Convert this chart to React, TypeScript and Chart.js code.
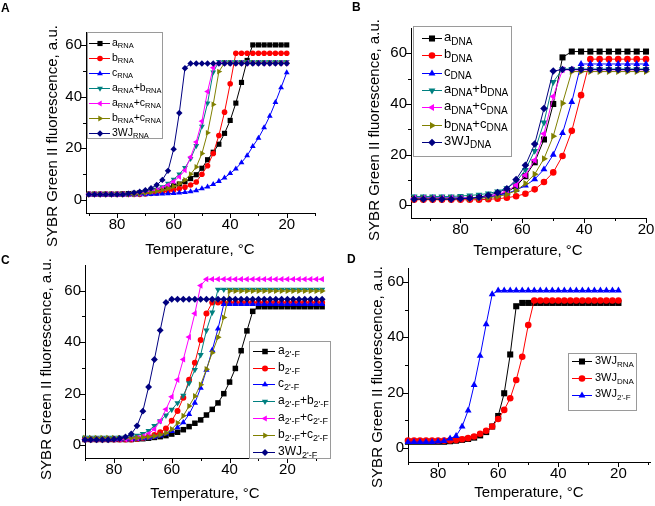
import React, { useEffect, useRef } from "react";
import { Chart, registerables } from "chart.js";

Chart.register(...registerables);

const FONT = "'Liberation Sans', Arial, Helvetica, sans-serif";

// ---------------- Panel A (RNA) ----------------
const tempA = [90, 88, 86, 84, 82, 80, 78, 76, 74, 72, 70, 68, 66, 64, 62, 60, 58, 56, 54, 52, 50, 48, 46, 44, 42, 40, 38, 36, 34, 32, 30, 28, 26, 24, 22, 20];
const aRNA = [2.3, 2.3, 2.3, 2.3, 2.3, 2.3, 2.4, 2.5, 2.6, 2.8, 3.0, 3.3, 3.7, 4.2, 4.8, 5.5, 6.2, 7.1, 8.3, 9.8, 12.3, 15.6, 18.5, 21.6, 25.8, 30.8, 37.5, 45.5, 54, 60, 60, 60, 60, 60, 60, 60];
const bRNA = [2.2, 2.2, 2.2, 2.2, 2.2, 2.2, 2.2, 2.2, 2.2, 2.2, 2.4, 2.6, 2.8, 3.1, 3.5, 3.9, 4.4, 5.0, 5.8, 7.0, 10, 13.3, 18, 25, 34, 45, 56.8, 56.8, 56.8, 56.8, 56.8, 56.8, 56.8, 56.8, 56.8, 56.8];
const cRNA = [2.0, 2.0, 2.0, 2.0, 2.0, 2.0, 2.0, 2.0, 2.0, 2.1, 2.1, 2.2, 2.3, 2.4, 2.5, 2.6, 2.8, 3.0, 3.3, 3.7, 4.4, 5.1, 6.1, 7.3, 8.6, 10.3, 12.1, 14.5, 17.2, 20.8, 24, 28, 32.5, 37.8, 43.5, 49.3];
const abRNA = [2.3, 2.3, 2.3, 2.3, 2.3, 2.3, 2.3, 2.3, 2.4, 2.6, 2.9, 3.4, 4.1, 5.1, 6.4, 8, 10, 12.5, 16, 21, 28.5, 37.5, 49.5, 53.5, 53.5, 53.5, 53.5, 53.5, 53.5, 53.5, 53.5, 53.5, 53.5, 53.5, 53.5, 53.5];
const acRNA = [2.3, 2.3, 2.3, 2.3, 2.3, 2.3, 2.3, 2.3, 2.4, 2.6, 2.9, 3.3, 3.9, 4.7, 5.8, 7.2, 9, 11.5, 16.7, 22.5, 30.5, 42, 51.2, 53, 53, 53, 53, 53, 53, 53, 53, 53, 53, 53, 53, 53];
const bcRNA = [2.2, 2.2, 2.2, 2.2, 2.2, 2.2, 2.2, 2.2, 2.2, 2.5, 2.7, 3.0, 3.4, 3.9, 4.5, 5.3, 6.3, 7.8, 10, 12.8, 18, 26, 37, 49.7, 53, 53, 53, 53, 53, 53, 53, 53, 53, 53, 53, 53];
const wjRNA = [2.2, 2.2, 2.2, 2.2, 2.2, 2.2, 2.2, 2.5, 2.8, 3.2, 3.8, 4.6, 5.8, 7.8, 11.3, 19.7, 33.7, 51, 52.8, 52.8, 52.8, 52.8, 52.8, 52.8, 52.8, 52.8, 52.8, 52.8, 52.8, 52.8, 52.8, 52.8, 52.8, 52.8, 52.8, 52.8];

// ---------------- Panel B (DNA) ----------------
const tempB = [95, 92, 89, 86, 83, 80, 77, 74, 71, 68, 65, 62, 59, 56, 53, 50, 47, 44, 41, 38, 35, 32, 29, 26, 23, 20];
const aDNA = [2.8, 2.8, 2.8, 2.8, 2.8, 2.8, 2.8, 3.0, 3.3, 4.0, 5.2, 7.5, 11.5, 17, 26, 40, 58.4, 60.7, 60.7, 60.7, 60.7, 60.7, 60.7, 60.7, 60.7, 60.7];
const bDNA = [2.2, 2.2, 2.2, 2.2, 2.2, 2.2, 2.2, 2.2, 2.4, 2.6, 3.0, 3.6, 4.6, 6.3, 9.2, 13, 19.5, 29.4, 43.5, 57.7, 57.7, 57.7, 57.7, 57.7, 57.7, 57.7];
const cDNA = [2.9, 2.9, 2.9, 2.9, 2.9, 2.9, 2.9, 3.1, 3.4, 3.9, 4.7, 6.0, 7.8, 10.3, 14.2, 20, 28.5, 40.8, 55.8, 55.8, 55.8, 55.8, 55.8, 55.8, 55.8, 55.8];
const abDNA = [3.5, 3.5, 3.5, 3.5, 3.5, 3.7, 3.9, 4.2, 4.7, 5.5, 6.8, 9.3, 14, 21.5, 32.7, 48.7, 53.8, 53.8, 53.8, 53.8, 53.8, 53.8, 53.8, 53.8, 53.8, 53.8];
const acDNA = [2.8, 2.8, 2.8, 2.8, 2.8, 2.8, 3.0, 3.2, 3.6, 4.3, 5.5, 8.0, 11.9, 17.8, 28.3, 43, 53.5, 53.5, 53.5, 53.5, 53.5, 53.5, 53.5, 53.5, 53.5, 53.5];
const bcDNA = [2.6, 2.6, 2.6, 2.6, 2.6, 2.6, 2.6, 2.8, 3.0, 3.5, 4.3, 5.8, 8.6, 12.3, 18.4, 27.3, 40.3, 52.8, 52.8, 52.8, 52.8, 52.8, 52.8, 52.8, 52.8, 52.8];
const wjDNA = [2.4, 2.4, 2.4, 2.4, 2.4, 2.6, 2.8, 3.2, 4.0, 5.0, 6.5, 10.2, 15.8, 24.2, 38.2, 53, 53.6, 53.6, 53.6, 53.6, 53.6, 53.6, 53.6, 53.6, 53.6, 53.6];

// ---------------- Panel C (2'-F) ----------------
const tempC = [90, 88, 86, 84, 82, 80, 78, 76, 74, 72, 70, 68, 66, 64, 62, 60, 58, 56, 54, 52, 50, 48, 46, 44, 42, 40, 38, 36, 34, 32, 30, 28, 26, 24, 22, 20, 18, 16, 14, 12, 10, 8];
const aF = [2.2, 2.2, 2.2, 2.2, 2.2, 2.2, 2.2, 2.2, 2.2, 2.4, 2.5, 2.7, 3.0, 3.3, 3.7, 4.3, 5.0, 6.0, 7.2, 8.5, 9.8, 11.7, 13.9, 16.4, 20, 24.5, 29.8, 36.7, 44.4, 52, 53.8, 53.8, 53.8, 53.8, 53.8, 53.8, 53.8, 53.8, 53.8, 53.8, 53.8, 53.8];
const bF = [2.2, 2.2, 2.2, 2.2, 2.2, 2.2, 2.2, 2.2, 2.2, 2.5, 2.8, 3.2, 3.9, 5.0, 6.5, 9.5, 13.3, 18.4, 25.4, 32, 40.9, 51.2, 55.4, 55.4, 55.4, 55.4, 55.4, 55.4, 55.4, 55.4, 55.4, 55.4, 55.4, 55.4, 55.4, 55.4, 55.4, 55.4, 55.4, 55.4, 55.4, 55.4];
const cF = [2.2, 2.2, 2.2, 2.2, 2.2, 2.2, 2.2, 2.2, 2.2, 2.4, 2.6, 2.8, 3.2, 3.7, 4.4, 5.4, 6.9, 8.8, 12, 16.4, 22.2, 29.2, 36.9, 45.2, 54.8, 54.8, 54.8, 54.8, 54.8, 54.8, 54.8, 54.8, 54.8, 54.8, 54.8, 54.8, 54.8, 54.8, 54.8, 54.8, 54.8, 54.8];
const abF = [2.9, 2.9, 2.9, 2.9, 2.9, 2.9, 2.9, 2.9, 3.3, 3.7, 4.4, 5.6, 7.5, 9.4, 11.6, 13.8, 16.4, 19.3, 24.1, 29.3, 35.1, 44.6, 51.6, 60.5, 60.5, 60.5, 60.5, 60.5, 60.5, 60.5, 60.5, 60.5, 60.5, 60.5, 60.5, 60.5, 60.5, 60.5, 60.5, 60.5, 60.5, 60.5];
const acF = [2.3, 2.3, 2.3, 2.3, 2.3, 2.3, 2.3, 2.3, 2.5, 2.8, 3.4, 4.4, 6.2, 9.4, 13.9, 18.8, 25.4, 33.3, 42, 51.2, 62, 64.5, 64.5, 64.5, 64.5, 64.5, 64.5, 64.5, 64.5, 64.5, 64.5, 64.5, 64.5, 64.5, 64.5, 64.5, 64.5, 64.5, 64.5, 64.5, 64.5, 64.5];
const bcF = [2.8, 2.8, 2.8, 2.8, 2.8, 2.8, 2.8, 2.8, 2.8, 2.8, 3.0, 3.2, 3.5, 4.0, 4.7, 6.2, 8.6, 11.4, 15.2, 19, 23.5, 29.5, 35.9, 41.9, 49.6, 59.9, 59.9, 59.9, 59.9, 59.9, 59.9, 59.9, 59.9, 59.9, 59.9, 59.9, 59.9, 59.9, 59.9, 59.9, 59.9, 59.9];
const wjF = [2.1, 2.1, 2.1, 2.1, 2.1, 2.3, 2.6, 3.2, 4.3, 7.5, 13.2, 22.6, 33.3, 44.6, 55.4, 56.7, 56.7, 56.7, 56.7, 56.7, 56.7, 56.7, 56.7, 56.7, 56.7, 56.7, 56.7, 56.7, 56.7, 56.7, 56.7, 56.7, 56.7, 56.7, 56.7, 56.7, 56.7, 56.7, 56.7, 56.7, 56.7, 56.7];

// ---------------- Panel D (3WJ comparison) ----------------
const tempD = [90, 88, 86, 84, 82, 80, 78, 76, 74, 72, 70, 68, 66, 64, 62, 60, 58, 56, 54, 52, 50, 48, 46, 44, 42, 40, 38, 36, 34, 32, 30, 28, 26, 24, 22, 20];
const wjRNA_D = [2.3, 2.3, 2.3, 2.3, 2.3, 2.3, 2.3, 2.5, 2.7, 3.0, 3.3, 3.8, 4.6, 5.8, 7.8, 11.6, 19.8, 33.8, 51.2, 52.4, 52.4, 52.4, 52.4, 52.4, 52.4, 52.4, 52.4, 52.4, 52.4, 52.4, 52.4, 52.4, 52.4, 52.4, 52.4, 52.4];
const wjDNA_D = [2.7, 2.7, 2.7, 2.7, 2.7, 2.7, 2.7, 2.8, 2.9, 3.2, 3.6, 4.2, 5.2, 6.3, 7.8, 10.5, 13.8, 18, 24.6, 33, 44.4, 53.3, 53.3, 53.3, 53.3, 53.3, 53.3, 53.3, 53.3, 53.3, 53.3, 53.3, 53.3, 53.3, 53.3, 53.3];
const wjF_D = [2.2, 2.2, 2.2, 2.2, 2.2, 2.4, 2.6, 3.5, 4.4, 7.8, 13.6, 22.8, 33.3, 44.7, 55.5, 56.9, 56.9, 56.9, 56.9, 56.9, 56.9, 56.9, 56.9, 56.9, 56.9, 56.9, 56.9, 56.9, 56.9, 56.9, 56.9, 56.9, 56.9, 56.9, 56.9, 56.9];

// ---------------- Axes ----------------
const xTickVals = [10, 20, 30, 40, 50, 60, 70, 80, 90];
const yTickVals = [0, 10, 20, 30, 40, 50, 60];
const xTitle = "Temperature, \u00B0C";
const yTitle = "SYBR Green II fluorescence, a.u.";

type MarkerDef = { style: string; rot: number; scale: number };
const MK: Record<string, MarkerDef> = {
  square: { style: "rect", rot: 0, scale: 1.3 },
  circle: { style: "circle", rot: 0, scale: 1.0 },
  up: { style: "triangle", rot: 0, scale: 1.2 },
  down: { style: "triangle", rot: 180, scale: 1.2 },
  left: { style: "triangle", rot: 270, scale: 1.2 },
  right: { style: "triangle", rot: 90, scale: 1.2 },
  diamond: { style: "rectRot", rot: 0, scale: 1.15 },
};
const C = {
  black: "#000000",
  red: "#FF0000",
  blue: "#0000FF",
  teal: "#008080",
  magenta: "#FF00FF",
  olive: "#808000",
  navy: "#000080",
};

type Series = { label: string; data: number[]; color: string; marker: MarkerDef };
type LegendCfg = { x: number; y: number; w: number; h: number; y0: number; dy: number; lx1: number; lx2: number; mx: number; tx: number; main: number; sub: number; base: number; subDy: number; r: number };
type PanelCfg = {
  id: string;
  letter: string;
  letterX: number;
  letterY: number;
  temps: number[];
  series: Series[];
  xMin: number;
  xMax: number;
  yMin: number;
  yMax: number;
  area: { l: number; t: number; r: number; b: number };
  r0: number;
  yTitleX: number;
  yTitleY: number;
  xTitleX: number;
  xTitleY: number;
  legend: LegendCfg;
};

const Y_W = 40;
const X_H = 30;

const panels: PanelCfg[] = [
  {
    id: "A", letter: "A", letterX: 1, letterY: 12, temps: tempA,
    series: [
      { label: "a_{RNA}", data: aRNA, color: C.black, marker: MK.square },
      { label: "b_{RNA}", data: bRNA, color: C.red, marker: MK.circle },
      { label: "c_{RNA}", data: cRNA, color: C.blue, marker: MK.up },
      { label: "a_{RNA}+b_{RNA}", data: abRNA, color: C.teal, marker: MK.down },
      { label: "a_{RNA}+c_{RNA}", data: acRNA, color: C.magenta, marker: MK.left },
      { label: "b_{RNA}+c_{RNA}", data: bcRNA, color: C.olive, marker: MK.right },
      { label: "3WJ_{RNA}", data: wjRNA, color: C.navy, marker: MK.diamond },
    ],
    xMin: 10, xMax: 91, yMin: -5, yMax: 65,
    area: { l: 86, t: 32, r: 315, b: 213 }, r0: 2.8,
    yTitleX: 53, yTitleY: 136, xTitleX: 200, xTitleY: 254,
    legend: { x: 87, y: 32, w: 75, h: 106, y0: 43, dy: 15, lx1: 89, lx2: 110, mx: 100, tx: 112, main: 10.5, sub: 7.5, base: 2.5, subDy: 2.5, r: 2.8 },
  },
  {
    id: "B", letter: "B", letterX: 352, letterY: 11, temps: tempB,
    series: [
      { label: "a_{DNA}", data: aDNA, color: C.black, marker: MK.square },
      { label: "b_{DNA}", data: bDNA, color: C.red, marker: MK.circle },
      { label: "c_{DNA}", data: cDNA, color: C.blue, marker: MK.up },
      { label: "a_{DNA}+b_{DNA}", data: abDNA, color: C.teal, marker: MK.down },
      { label: "a_{DNA}+c_{DNA}", data: acDNA, color: C.magenta, marker: MK.left },
      { label: "b_{DNA}+c_{DNA}", data: bcDNA, color: C.olive, marker: MK.right },
      { label: "3WJ_{DNA}", data: wjDNA, color: C.navy, marker: MK.diamond },
    ],
    xMin: 20, xMax: 96, yMin: -5, yMax: 70,
    area: { l: 411, t: 28, r: 646, b: 218 }, r0: 3.3,
    yTitleX: 375, yTitleY: 130, xTitleX: 528, xTitleY: 255,
    legend: { x: 413, y: 26, w: 98, h: 130, y0: 38, dy: 17.3, lx1: 422, lx2: 442, mx: 432, tx: 444, main: 13, sub: 10, base: 3, subDy: 3.5, r: 3.3 },
  },
  {
    id: "C", letter: "C", letterX: 1, letterY: 264, temps: tempC,
    series: [
      { label: "a_{2'-F}", data: aF, color: C.black, marker: MK.square },
      { label: "b_{2'-F}", data: bF, color: C.red, marker: MK.circle },
      { label: "c_{2'-F}", data: cF, color: C.blue, marker: MK.up },
      { label: "a_{2'-F}+b_{2'-F}", data: abF, color: C.teal, marker: MK.down },
      { label: "a_{2'-F}+c_{2'-F}", data: acF, color: C.magenta, marker: MK.left },
      { label: "b_{2'-F}+c_{2'-F}", data: bcF, color: C.olive, marker: MK.right },
      { label: "3WJ_{2'-F}", data: wjF, color: C.navy, marker: MK.diamond },
    ],
    xMin: 7, xMax: 90, yMin: -5, yMax: 70,
    area: { l: 85, t: 265, r: 325, b: 458 }, r0: 3.0,
    yTitleX: 47, yTitleY: 369, xTitleX: 205, xTitleY: 498,
    legend: { x: 249, y: 341, w: 81, h: 117, y0: 350.7, dy: 16.8, lx1: 253, lx2: 275, mx: 265, tx: 278, main: 12, sub: 9, base: 3, subDy: 3, r: 3.0 },
  },
  {
    id: "D", letter: "D", letterX: 347, letterY: 263, temps: tempD,
    series: [
      { label: "3WJ_{RNA}", data: wjRNA_D, color: C.black, marker: MK.square },
      { label: "3WJ_{DNA}", data: wjDNA_D, color: C.red, marker: MK.circle },
      { label: "3WJ_{2'-F}", data: wjF_D, color: C.blue, marker: MK.up },
    ],
    xMin: 9.5, xMax: 90, yMin: -5, yMax: 65,
    area: { l: 408, t: 268, r: 650, b: 462 }, r0: 3.3,
    yTitleX: 378, yTitleY: 377, xTitleX: 529, xTitleY: 497,
    legend: { x: 568, y: 353, w: 68, h: 57, y0: 361.3, dy: 16.7, lx1: 572, lx2: 592, mx: 582, tx: 595, main: 11, sub: 8, base: 2.5, subDy: 3, r: 3.3 },
  },
];

function drawMarker(ctx: CanvasRenderingContext2D, style: string, rotDeg: number, x: number, y: number, r: number) {
  ctx.beginPath();
  if (style === "circle") {
    ctx.arc(x, y, r, 0, Math.PI * 2);
  } else if (style === "rect") {
    const s = Math.SQRT1_2 * r;
    ctx.rect(x - s, y - s, 2 * s, 2 * s);
  } else if (style === "rectRot") {
    ctx.moveTo(x - r, y);
    ctx.lineTo(x, y - r);
    ctx.lineTo(x + r, y);
    ctx.lineTo(x, y + r);
    ctx.closePath();
  } else {
    let rad = (rotDeg * Math.PI) / 180;
    ctx.moveTo(x + Math.sin(rad) * r, y - Math.cos(rad) * r);
    rad += (2 * Math.PI) / 3;
    ctx.lineTo(x + Math.sin(rad) * r, y - Math.cos(rad) * r);
    rad += (2 * Math.PI) / 3;
    ctx.lineTo(x + Math.sin(rad) * r, y - Math.cos(rad) * r);
    ctx.closePath();
  }
  ctx.fill();
}

function drawRich(ctx: CanvasRenderingContext2D, text: string, x: number, y: number, main: number, sub: number, subDy: number) {
  const parts: { t: string; s: boolean }[] = [];
  const re = /_\{([^}]*)\}/g;
  let last = 0;
  let m: RegExpExecArray | null;
  while ((m = re.exec(text))) {
    if (m.index > last) parts.push({ t: text.slice(last, m.index), s: false });
    parts.push({ t: m[1], s: true });
    last = re.lastIndex;
  }
  if (last < text.length) parts.push({ t: text.slice(last), s: false });
  let cx = x;
  for (const p of parts) {
    ctx.font = `${p.s ? sub : main}px ${FONT}`;
    ctx.fillText(p.t, cx, p.s ? y + subDy : y);
    cx += ctx.measureText(p.t).width;
  }
}

function makePlugin(cfg: PanelCfg) {
  return {
    id: "panelDecor" + cfg.id,
    afterDraw(chart: any) {
      const ctx: CanvasRenderingContext2D = chart.ctx;
      const { left, bottom } = chart.chartArea;
      const xs = chart.scales.x;
      const ys = chart.scales.y;
      ctx.save();
      ctx.strokeStyle = "#000";
      ctx.lineWidth = 1;
      for (const v of xTickVals) {
        if (v < cfg.xMin || v > cfg.xMax) continue;
        const px = Math.round(xs.getPixelForValue(v)) + 0.5;
        const len = v % 20 === 0 ? 5 : 3;
        ctx.beginPath();
        ctx.moveTo(px, bottom);
        ctx.lineTo(px, bottom + len);
        ctx.stroke();
      }
      for (const v of yTickVals) {
        if (v < cfg.yMin || v > cfg.yMax) continue;
        const py = Math.round(ys.getPixelForValue(v)) + 0.5;
        const len = v % 20 === 0 ? 5 : 3;
        ctx.beginPath();
        ctx.moveTo(left, py);
        ctx.lineTo(left - len, py);
        ctx.stroke();
      }
      // axis titles
      ctx.fillStyle = "#000";
      ctx.font = `15px ${FONT}`;
      ctx.textAlign = "center";
      ctx.textBaseline = "alphabetic";
      ctx.fillText(xTitle, cfg.xTitleX, cfg.xTitleY);
      ctx.save();
      ctx.translate(cfg.yTitleX, cfg.yTitleY);
      ctx.rotate(-Math.PI / 2);
      ctx.textBaseline = "middle";
      ctx.fillText(yTitle, 0, 0);
      ctx.restore();
      // panel letter
      ctx.font = `bold 12px ${FONT}`;
      ctx.textAlign = "left";
      ctx.textBaseline = "alphabetic";
      ctx.fillText(cfg.letter, cfg.letterX, cfg.letterY);
      // legend
      const L = cfg.legend;
      ctx.fillStyle = "#fff";
      ctx.fillRect(L.x, L.y, L.w, L.h);
      ctx.strokeStyle = "#9a9a9a";
      ctx.strokeRect(Math.round(L.x) + 0.5, Math.round(L.y) + 0.5, L.w, L.h);
      cfg.series.forEach((s, i) => {
        const y = L.y0 + i * L.dy;
        ctx.strokeStyle = s.color;
        ctx.lineWidth = 1;
        ctx.beginPath();
        ctx.moveTo(L.lx1, Math.round(y) + 0.5);
        ctx.lineTo(L.lx2, Math.round(y) + 0.5);
        ctx.stroke();
        ctx.fillStyle = s.color;
        drawMarker(ctx, s.marker.style, s.marker.rot, L.mx, Math.round(y) + 0.5, L.r * s.marker.scale);
        ctx.fillStyle = "#000";
        ctx.textAlign = "left";
        ctx.textBaseline = "alphabetic";
        drawRich(ctx, s.label, L.tx, y + L.base, L.main, L.sub, L.subDy);
      });
      ctx.restore();
    },
  };
}

function Panel({ cfg }: { cfg: PanelCfg }) {
  const ref = useRef<HTMLCanvasElement | null>(null);
  useEffect(() => {
    if (!ref.current) return;
    const tickFont = { family: FONT, size: 15, lineHeight: 1 };
    const chart = new Chart(ref.current, {
      type: "line",
      data: {
        datasets: cfg.series.map((s, i) => ({
          label: s.label,
          data: cfg.temps.map((t, k) => ({ x: t, y: s.data[k] })),
          borderColor: s.color,
          backgroundColor: s.color,
          borderWidth: 1,
          pointStyle: s.marker.style as any,
          pointRotation: s.marker.rot,
          pointRadius: cfg.r0 * s.marker.scale,
          pointBorderWidth: 0,
          pointHoverRadius: cfg.r0 * s.marker.scale,
          tension: 0,
          clip: false as any,
          order: -i,
        })),
      },
      options: {
        responsive: false,
        animation: false,
        events: [],
        layout: {
          padding: {
            left: cfg.area.l - Y_W,
            top: cfg.area.t,
            right: 655 - cfg.area.r,
            bottom: 506 - cfg.area.b - X_H,
          },
        },
        plugins: { legend: { display: false }, tooltip: { enabled: false } },
        scales: {
          x: {
            type: "linear",
            reverse: true,
            min: cfg.xMin,
            max: cfg.xMax,
            afterBuildTicks: (s: any) => {
              s.ticks = xTickVals.filter((v) => v >= cfg.xMin && v <= cfg.xMax).map((v) => ({ value: v }));
            },
            afterFit: (s: any) => {
              s.height = X_H;
            },
            ticks: {
              autoSkip: false,
              maxRotation: 0,
              color: "#000",
              font: tickFont,
              padding: 0,
              callback: (v: any) => (Number(v) % 20 === 0 ? String(v) : ""),
            },
            grid: { drawOnChartArea: false, drawTicks: true, tickLength: 4, color: "rgba(0,0,0,0)" },
            border: { display: true, color: "#000", width: 1 },
          },
          y: {
            type: "linear",
            min: cfg.yMin,
            max: cfg.yMax,
            afterBuildTicks: (s: any) => {
              s.ticks = yTickVals.filter((v) => v >= cfg.yMin && v <= cfg.yMax).map((v) => ({ value: v }));
            },
            afterFit: (s: any) => {
              s.width = Y_W;
            },
            ticks: {
              autoSkip: false,
              color: "#000",
              font: tickFont,
              padding: 0,
              callback: (v: any) => (Number(v) % 20 === 0 ? String(v) : ""),
            },
            grid: { drawOnChartArea: false, drawTicks: true, tickLength: 4, color: "rgba(0,0,0,0)" },
            border: { display: true, color: "#000", width: 1 },
          },
        },
      } as any,
      plugins: [makePlugin(cfg)],
    });
    return () => chart.destroy();
  }, [cfg]);
  return (
    <canvas
      ref={ref}
      width={655}
      height={506}
      style={{ position: "absolute", left: 0, top: 0, width: 655, height: 506 }}
    />
  );
}

export default function App() {
  return (
    <div style={{ position: "fixed", left: 0, top: 0, width: 655, height: 506, background: "#fff", overflow: "hidden" }}>
      {panels.map((p) => (
        <Panel key={p.id} cfg={p} />
      ))}
    </div>
  );
}
